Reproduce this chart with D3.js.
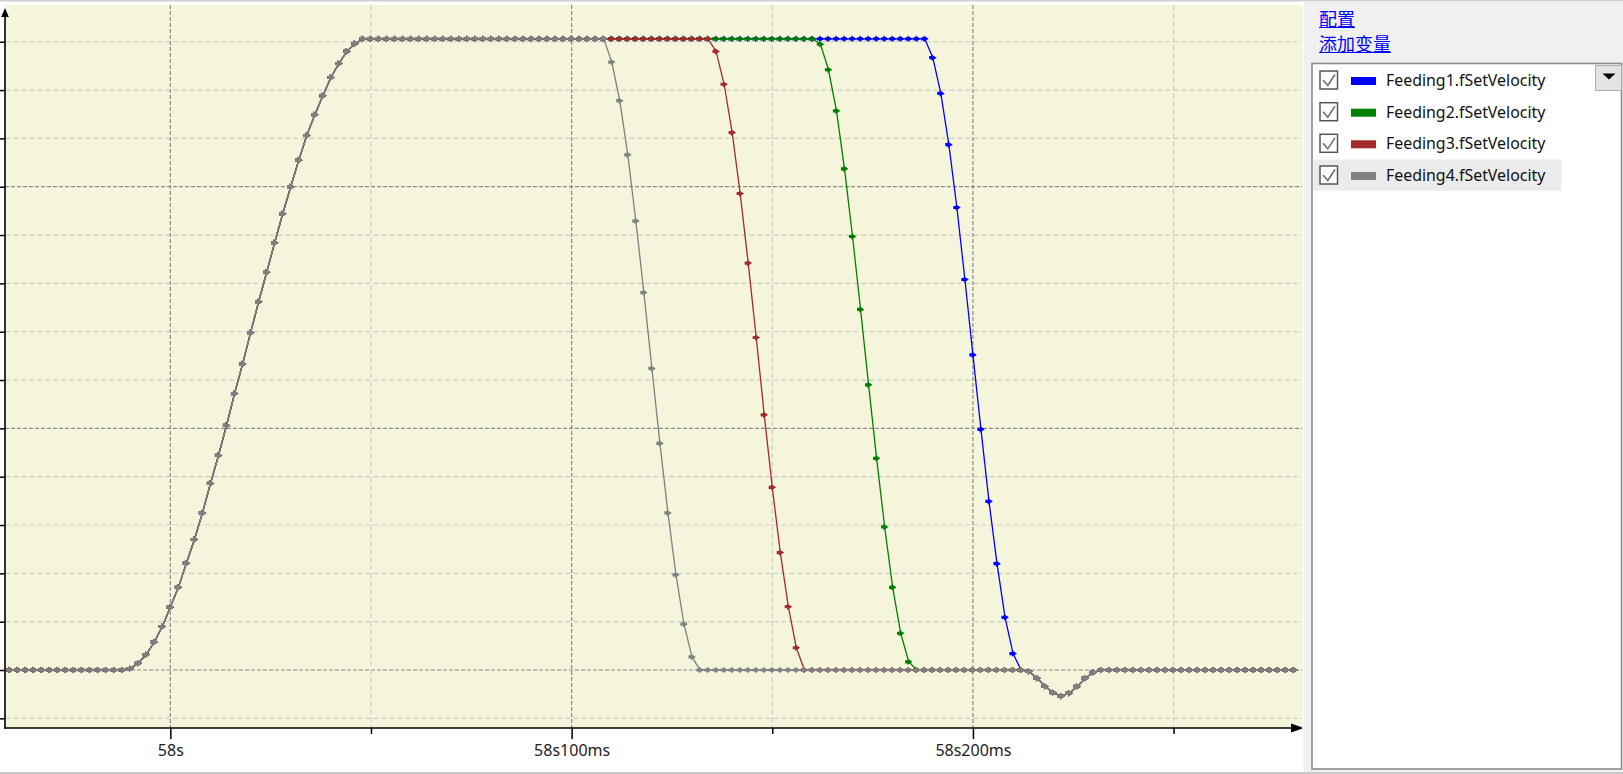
<!DOCTYPE html>
<html><head><meta charset="utf-8">
<script src="https://cdn.jsdelivr.net/npm/d3@7"></script>
<style>html,body{margin:0;padding:0;background:#fff;overflow:hidden}</style>
</head><body><svg id="c" width="1623" height="774"></svg>
<script>
// sample times, ms after 58s
const timesMs = [
-40,-38,-36,-34,-32,-30,-28,-26,-24,-22,
-20,-18,-16,-14,-12,-10,-8,-6,-4,-2,
0,2,4,6,8,10,12,14,16,18,
20,22,24,26,28,30,32,34,36,38,
40,42,44,46,48,50,52,54,56,58,
60,62,64,66,68,70,72,74,76,78,
80,82,84,86,88,90,92,94,96,98,
100,102,104,106,108,110,112,114,116,118,
120,122,124,126,128,130,132,134,136,138,
140,142,144,146,148,150,152,154,156,158,
160,162,164,166,168,170,172,174,176,178,
180,182,184,186,188,190,192,194,196,198,
200,202,204,206,208,210,212,214,216,218,
220,222,224,226,228,230,232,234,236,238,
240,242,244,246,248,250,252,254,256,258,
260,262,264,266,268,270,272,274,276,278,
280];

const feeding1 = [
0,0,0,0,0,0,0,0,0,0,
0,0,0,0,0,3,14,32,58,90,
130,171,221,270,325,386,444,506,572,633,
698,762,823,884,944,1000,1055,1106,1149,1188,
1226,1255,1280,1296,1306,1306,1306,1306,1306,1306,
1306,1306,1306,1306,1306,1306,1306,1306,1306,1306,
1306,1306,1306,1306,1306,1306,1306,1306,1306,1306,
1306,1306,1306,1306,1306,1306,1306,1306,1306,1306,
1306,1306,1306,1306,1306,1306,1306,1306,1306,1306,
1306,1306,1306,1306,1306,1306,1306,1306,1306,1306,
1306,1306,1306,1306,1306,1306,1306,1306,1306,1306,
1306,1306,1306,1306,1306,1267,1193,1087,957,808,
652,498,349,220,109,34,0,-3,-17,-34,
-47,-54,-48,-34,-17,-5,0,0,0,0,
0,0,0,0,0,0,0,0,0,0,
0,0,0,0,0,0,0,0,0,0,
0];

const feeding2 = [
0,0,0,0,0,0,0,0,0,0,
0,0,0,0,0,3,14,32,58,90,
130,171,221,270,325,386,444,506,572,633,
698,762,823,884,944,1000,1055,1106,1149,1188,
1226,1255,1280,1296,1306,1306,1306,1306,1306,1306,
1306,1306,1306,1306,1306,1306,1306,1306,1306,1306,
1306,1306,1306,1306,1306,1306,1306,1306,1306,1306,
1306,1306,1306,1306,1306,1306,1306,1306,1306,1306,
1306,1306,1306,1306,1306,1306,1306,1306,1306,1306,
1306,1306,1306,1306,1306,1306,1306,1306,1306,1306,
1306,1295,1242,1157,1037,897,746,590,438,296,
171,76,17,0,0,0,0,0,0,0,
0,0,0,0,0,0,0,-3,-17,-34,
-47,-54,-48,-34,-17,-5,0,0,0,0,
0,0,0,0,0,0,0,0,0,0,
0,0,0,0,0,0,0,0,0,0,
0];

const feeding3 = [
0,0,0,0,0,0,0,0,0,0,
0,0,0,0,0,3,14,32,58,90,
130,171,221,270,325,386,444,506,572,633,
698,762,823,884,944,1000,1055,1106,1149,1188,
1226,1255,1280,1296,1306,1306,1306,1306,1306,1306,
1306,1306,1306,1306,1306,1306,1306,1306,1306,1306,
1306,1306,1306,1306,1306,1306,1306,1306,1306,1306,
1306,1306,1306,1306,1306,1306,1306,1306,1306,1306,
1306,1306,1306,1306,1306,1306,1306,1306,1280,1212,
1112,986,842,688,528,378,243,131,46,0,
0,0,0,0,0,0,0,0,0,0,
0,0,0,0,0,0,0,0,0,0,
0,0,0,0,0,0,0,-3,-17,-34,
-47,-54,-48,-34,-17,-5,0,0,0,0,
0,0,0,0,0,0,0,0,0,0,
0,0,0,0,0,0,0,0,0,0,
0];

const feeding4 = [
0,0,0,0,0,0,0,0,0,0,
0,0,0,0,0,3,14,32,58,90,
130,171,221,270,325,386,444,506,572,633,
698,762,823,884,944,1000,1055,1106,1149,1188,
1226,1255,1280,1296,1306,1306,1306,1306,1306,1306,
1306,1306,1306,1306,1306,1306,1306,1306,1306,1306,
1306,1306,1306,1306,1306,1306,1306,1306,1306,1306,
1306,1306,1306,1306,1306,1258,1178,1066,929,781,
624,469,325,197,95,27,0,0,0,0,
0,0,0,0,0,0,0,0,0,0,
0,0,0,0,0,0,0,0,0,0,
0,0,0,0,0,0,0,0,0,0,
0,0,0,0,0,0,0,-3,-17,-34,
-47,-54,-48,-34,-17,-5,0,0,0,0,
0,0,0,0,0,0,0,0,0,0,
0,0,0,0,0,0,0,0,0,0,
0];

const seriesNames = ["Feeding1.fSetVelocity","Feeding2.fSetVelocity","Feeding3.fSetVelocity","Feeding4.fSetVelocity"];
const seriesColors = ["#0000ff","#008000","#a52a2a","#808080"];
const seriesValues = [feeding1, feeding2, feeding3, feeding4];

const xTickValues = [0,50,100,150,200,250];
const xTickLabels = ["58s","","58s100ms","","58s200ms",""];
const majorXTicks = [0,100,200];
const yTickValues = [-100,0,100,200,300,400,500,600,700,800,900,1000,1100,1200,1300];
const majorYTicks = [0,500,1000];
const linkLabels = ["配置","添加变量"];

const W = 1623, H = 774;
const L = 5, R = 1302, T = 5, B = 728;
const svg = d3.select("#c");

const x = d3.scaleLinear().domain([-41.2, 282]).range([L, R]);
const y = d3.scaleLinear().domain([-120, 1376]).range([B, T]);

// frame lines
svg.append("rect").attr("x",0).attr("y",0).attr("width",W).attr("height",1.5).attr("fill","#d0d0d0");
svg.append("rect").attr("x",0).attr("y",772).attr("width",W).attr("height",2).attr("fill","#c8c8c8");

// plot background
svg.append("rect").attr("x",L).attr("y",T).attr("width",R-L).attr("height",B-T).attr("fill","#f5f5dc");

// grid
const grid = svg.append("g");
grid.selectAll("line.h").data(yTickValues).join("line")
  .attr("x1",L).attr("x2",R).attr("y1",d=>y(d)).attr("y2",d=>y(d))
  .attr("stroke",d=>majorYTicks.includes(d)?"#8a8a8a":"#cdcdcd")
  .attr("stroke-width",1.2)
  .attr("stroke-dasharray",d=>majorYTicks.includes(d)?"4,2":"5,3");
grid.selectAll("line.v").data(xTickValues).join("line")
  .attr("y1",T).attr("y2",B).attr("x1",d=>x(d)).attr("x2",d=>x(d))
  .attr("stroke",d=>majorXTicks.includes(d)?"#8a8a8a":"#cdcdcd")
  .attr("stroke-width",1.2)
  .attr("stroke-dasharray",d=>majorXTicks.includes(d)?"4,2":"5,3");

// clip
svg.append("clipPath").attr("id","pc").append("rect").attr("x",L).attr("y",T).attr("width",R-L).attr("height",B-T);
const plot = svg.append("g").attr("clip-path","url(#pc)");

const line = d3.line().x((d,i)=>x(timesMs[i])).y(d=>y(d));
const markerPath = "M-3.6,-1.6 L-1.2,-1.6 L-1.2,-3.3 L3.9,0 L-1.2,3.3 L-1.2,1.6 L-3.6,1.6 Z";

seriesValues.forEach((vals, si) => {
  const g = plot.append("g");
  g.append("path").attr("d", line(vals)).attr("fill","none")
    .attr("stroke", seriesColors[si]).attr("stroke-width",1.3);
  g.selectAll("path.m").data(vals).join("path")
    .attr("class","m")
    .attr("d", markerPath)
    .attr("transform",(d,i)=>`translate(${x(timesMs[i])},${y(d)})`)
    .attr("fill", seriesColors[si]);
});

// axes
const yAxis = d3.axisLeft(y).tickValues(yTickValues).tickSize(5).tickFormat("");
const gy = svg.append("g").attr("transform",`translate(${L},0)`).call(yAxis);
gy.select(".domain").remove();
gy.selectAll(".tick line").attr("stroke","#000").attr("stroke-width",1.5);

const xAxis = d3.axisBottom(x).tickValues(xTickValues).tickSize(11).tickFormat((d,i)=>xTickLabels[i]);
const gx = svg.append("g").attr("transform",`translate(0,${B})`).call(xAxis);
gx.select(".domain").remove();
gx.selectAll(".tick line").attr("stroke","#000").attr("stroke-width",1.5)
  .attr("y2",d=>majorXTicks.includes(d)?11:6);
gx.selectAll(".tick text").attr("y",28).attr("dy",0)
  .attr("font-family","'Noto Sans', sans-serif").attr("font-size",16).attr("fill","#222");

// axis lines with arrows
svg.append("line").attr("x1",L).attr("x2",L).attr("y1",14).attr("y2",B+0.75).attr("stroke","#000").attr("stroke-width",1.6);
svg.append("path").attr("d",`M${L},8 L${L+3.8},17 L${L-3.8},17 Z`).attr("fill","#000");
svg.append("line").attr("x1",L-0.75).attr("x2",1294).attr("y1",B).attr("y2",B).attr("stroke","#000").attr("stroke-width",1.6);
svg.append("path").attr("d",`M1304,${B} L1291,${B-4.5} L1291,${B+4.5} Z`).attr("fill","#000");

// right panel
svg.append("rect").attr("x",R).attr("y",1.5).attr("width",W-R).attr("height",770.5).attr("fill","#f0f0f0");
svg.append("rect").attr("x",R).attr("y",1.5).attr("width",2).attr("height",770.5).attr("fill","#fafafa");

// links
const linkY = [26, 51];
linkLabels.forEach((t,i)=>{
  const tx = svg.append("text").attr("x",1319).attr("y",linkY[i]).text(t)
    .attr("font-family","'Noto Sans CJK SC', sans-serif").attr("font-size",18).attr("fill","#0000ff");
  const w = tx.node().getComputedTextLength();
  svg.append("line").attr("x1",1319).attr("x2",1319+w).attr("y1",linkY[i]+1.5).attr("y2",linkY[i]+1.5)
    .attr("stroke","#0000ff").attr("stroke-width",1.2);
});

// legend box
svg.append("rect").attr("x",1312).attr("y",63.5).attr("width",309.5).attr("height",705.5)
  .attr("fill","#fff").attr("stroke","#8c8c8c").attr("stroke-width",1.6);

const rowY = [80, 111.7, 143.3, 175];
svg.append("rect").attr("x",1313.5).attr("y",159.5).attr("width",248).attr("height",31).attr("fill","#ebebeb");

const lg = svg.append("g").selectAll("g").data(seriesNames).join("g")
  .attr("transform",(d,i)=>`translate(0,${rowY[i]})`);
lg.append("rect").attr("x",1320).attr("y",-9).attr("width",17.5).attr("height",18)
  .attr("fill","#fff").attr("stroke","#555").attr("stroke-width",1.5);
lg.append("polyline").attr("points","1323,0 1327.8,5.5 1335,-5.5").attr("fill","none")
  .attr("stroke","#6a6a6a").attr("stroke-width",1.5);
lg.append("rect").attr("x",1351).attr("y",-3).attr("width",25).attr("height",8)
  .attr("fill",(d,i)=>seriesColors[i]);
lg.append("text").attr("x",1386).attr("y",6).text(d=>d)
  .attr("font-family","'Noto Sans', sans-serif").attr("font-size",15.9).attr("fill","#111");

// dropdown button
svg.append("rect").attr("x",1595.5).attr("y",65.5).attr("width",26).attr("height",25)
  .attr("fill","#e3e3e3").attr("stroke","#adadad").attr("stroke-width",1);
svg.append("path").attr("d","M1602.5,73.5 L1615.5,73.5 L1609,79.5 Z").attr("fill","#000");
</script>
</body></html>
